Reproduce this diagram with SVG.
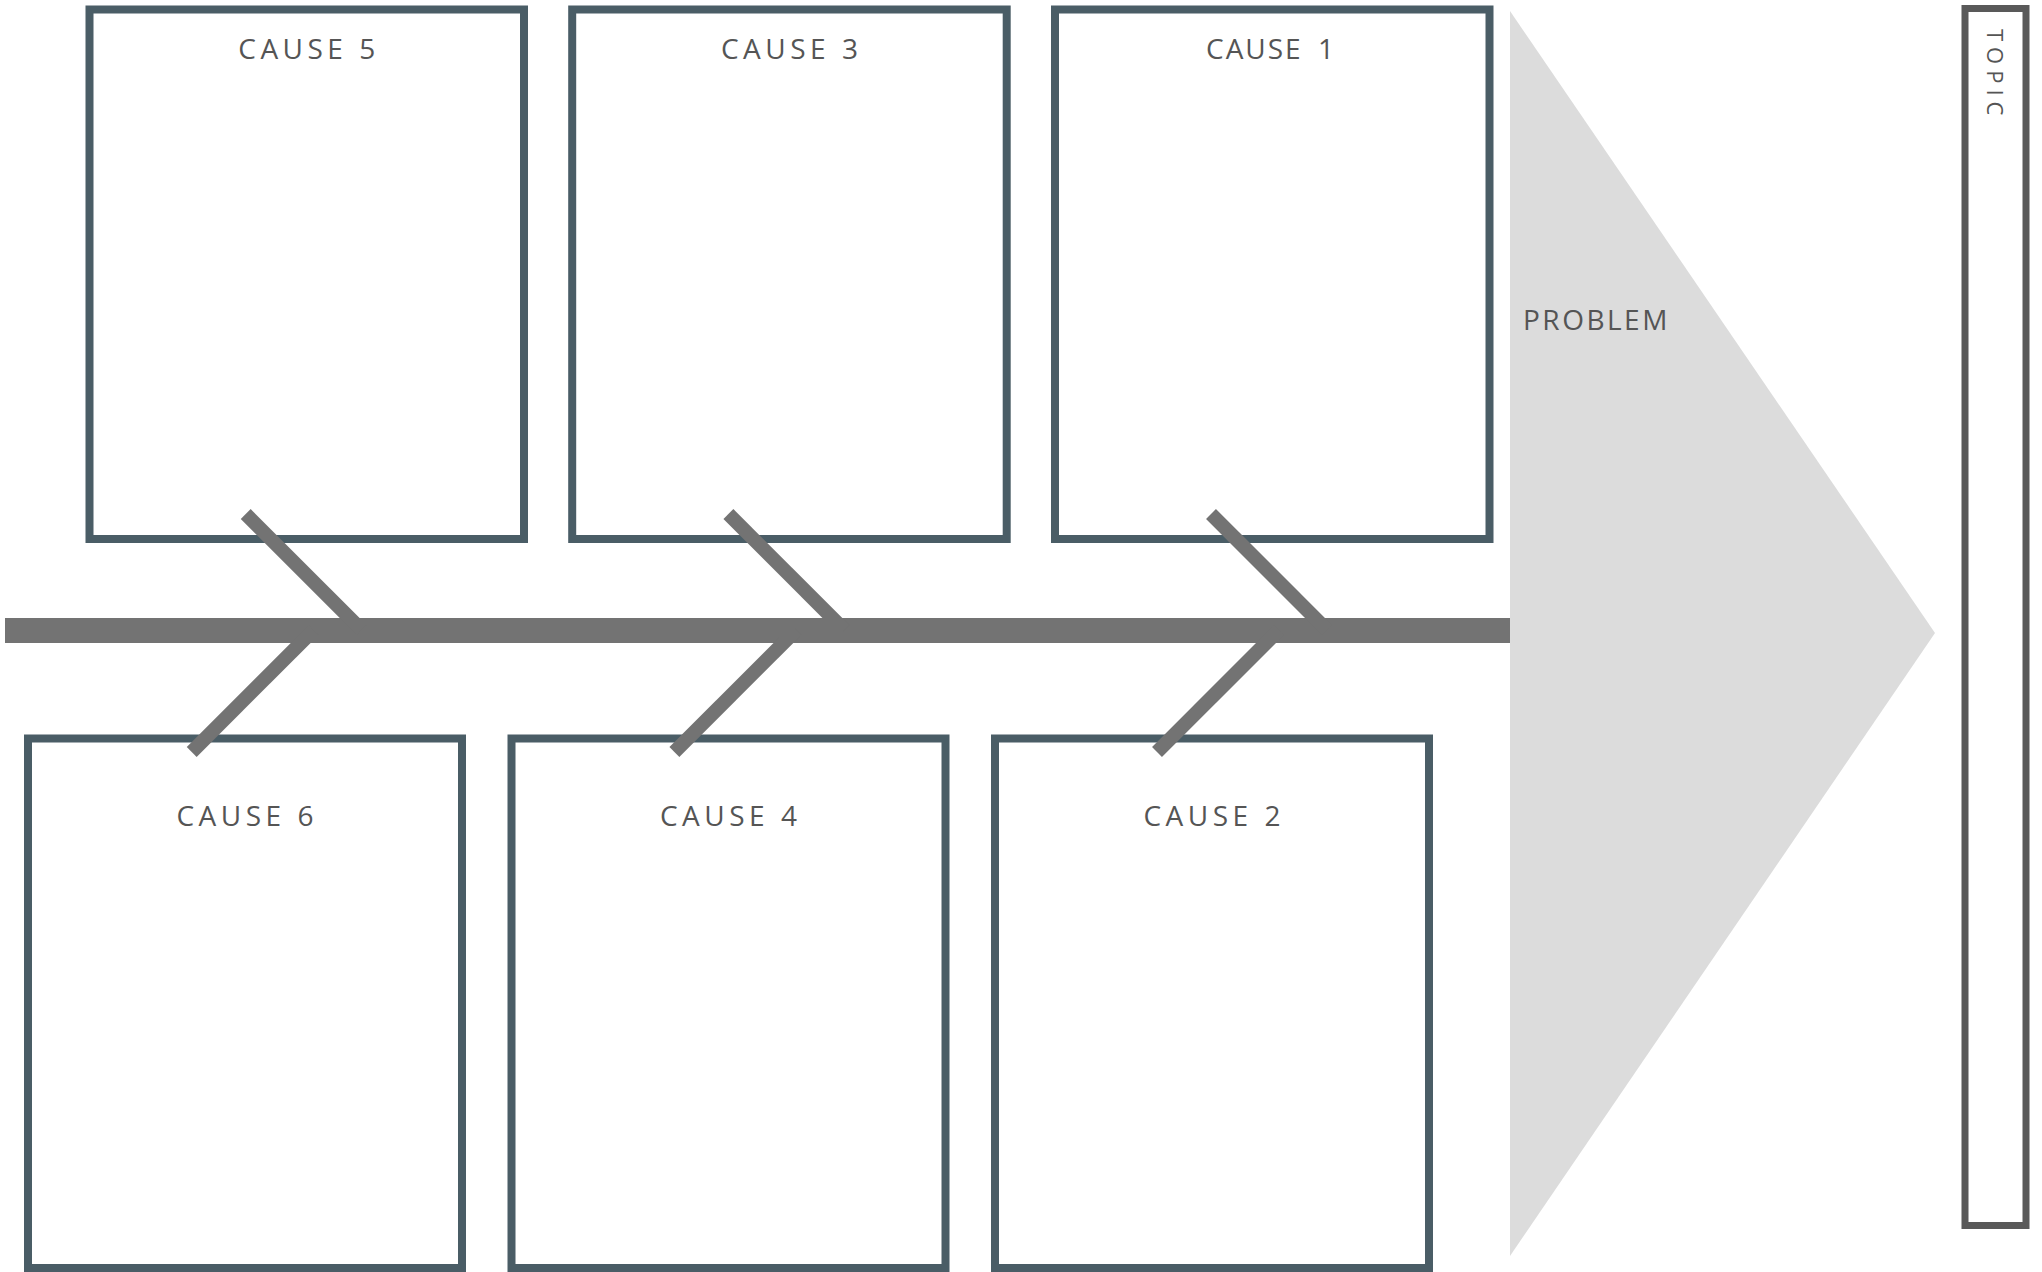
<svg xmlns="http://www.w3.org/2000/svg" width="2042" height="1272" viewBox="0 0 2042 1272">
  <style>
    .box { fill: #ffffff; stroke: #4a5d66; stroke-width: 8; }
    .lbl { font-family: "Open Sans", "Liberation Sans", sans-serif; font-size: 28px; fill: #555555; letter-spacing: 4.5px; text-anchor: middle; }
    .bone { stroke: #737373; stroke-width: 14; stroke-linecap: butt; fill: none; }
    .spine { stroke: #737373; stroke-width: 25; fill: none; }
  </style>
  <rect width="2042" height="1272" fill="#ffffff"/>

  <g id="problem">
    <polygon points="1510,11 1935,633 1510,1256" fill="#dcdcdc"/>
    <text x="1523" y="330" class="lbl" style="text-anchor:start; letter-spacing:2.5px">PROBLEM</text>
  </g>

  <g id="topic">
    <rect x="1965" y="8.5" width="61" height="1217" fill="#ffffff" stroke="#595959" stroke-width="7"/>
    <text transform="translate(1987,29) rotate(90)" style="font-family:'Open Sans','Liberation Sans',sans-serif; font-size:22px; fill:#555555; letter-spacing:6px">TOPIC</text>
  </g>

  <g id="cause5">
    <rect class="box" x="89.5" y="9.5" width="434.5" height="529.5"/>
    <text class="lbl" x="309" y="59">CAUSE 5</text>
  </g>
  <g id="cause3">
    <rect class="box" x="572.2" y="9.5" width="434.5" height="529.5"/>
    <text class="lbl" x="791.7" y="59">CAUSE 3</text>
  </g>
  <g id="cause1">
    <rect class="box" x="1055" y="9.5" width="434.5" height="529.5"/>
    <text class="lbl" x="1206" y="59" style="text-anchor:start; letter-spacing:2px">CAUSE<tspan x="1318">1</tspan></text>
  </g>
  <g id="cause6">
    <rect class="box" x="28" y="738.5" width="434" height="529.5"/>
    <text class="lbl" x="247.2" y="826">CAUSE 6</text>
  </g>
  <g id="cause4">
    <rect class="box" x="511.5" y="738.5" width="434" height="529.5"/>
    <text class="lbl" x="730.7" y="826">CAUSE 4</text>
  </g>
  <g id="cause2">
    <rect class="box" x="995" y="738.5" width="434" height="529.5"/>
    <text class="lbl" x="1214.2" y="826">CAUSE 2</text>
  </g>

  <g id="connectors">
    <line class="spine" x1="5" y1="630.5" x2="1510" y2="630.5"/>
    <line class="bone" x1="245.7" y1="514" x2="361.7" y2="630"/>
    <line class="bone" x1="728.4" y1="514" x2="844.4" y2="630"/>
    <line class="bone" x1="1211" y1="514" x2="1327" y2="630"/>
    <line class="bone" x1="191.7" y1="752" x2="313.7" y2="630"/>
    <line class="bone" x1="674.4" y1="752" x2="796.4" y2="630"/>
    <line class="bone" x1="1157" y1="752" x2="1279" y2="630"/>
  </g>
</svg>
